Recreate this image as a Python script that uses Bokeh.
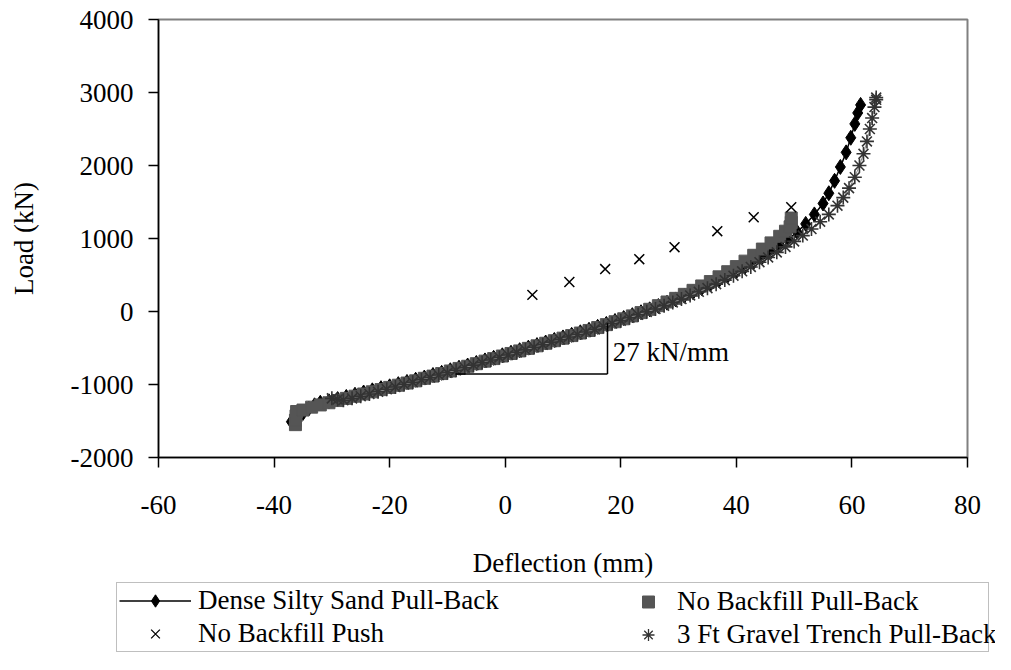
import numpy as np
from bokeh.plotting import figure
from bokeh.layouts import column
from bokeh.models import Range1d, SingleIntervalTicker, Legend, LegendItem, PrintfTickFormatter
from bokeh.core.properties import value
from bokeh.embed import file_html
from bokeh.resources import INLINE

# ---------------- data ----------------
dense_x = [-37, -36, -35, -34, -33, -32, -30.5, -29, -27.5, -26, -24.5, -23, -21.5, -20, -18.5, -17,
           -15.5, -14, -12.5, -11, -9.5, -8, -6.5, -5, -3.5, -2, -0.5, 1, 2.5, 4, 5.5, 7, 8.5, 10,
           11.5, 13, 14.5, 16, 17.5, 19, 20.5, 22, 23.5, 25, 26.5, 28, 29.5, 31, 32.5, 34, 35.5, 37,
           38.5, 40, 41.5, 43, 44.5, 46, 47.5, 49, 50.5, 52, 53.5, 55, 56, 57, 58, 59, 59.8, 60.5, 61, 61.5]
dense_y = [-1510, -1450, -1390, -1330, -1285, -1250, -1230, -1200, -1170, -1140, -1110, -1080, -1050,
           -1025, -995, -965, -935, -905, -870, -840, -805, -770, -740, -705, -670, -635, -600, -565,
           -530, -495, -460, -425, -390, -355, -320, -285, -250, -210, -170, -130, -90, -50, -10, 30,
           75, 120, 165, 215, 265, 320, 375, 430, 490, 550, 615, 680, 750, 825, 905, 990, 1090, 1200,
           1330, 1480, 1620, 1790, 1980, 2180, 2380, 2570, 2720, 2830]

nb_pull_x = [-36.3, -36.3, -36.2, -36.1, -35, -33.5, -32, -30.5, -29, -27.5, -26, -24.5, -23, -21.5,
             -20, -18.5, -17, -15.5, -14, -12.5, -11, -9.5, -8, -6.5, -5, -3.5, -2, -0.5, 1, 2.5, 4,
             5.5, 7, 8.5, 10, 11.5, 13, 14.5, 16, 17.5, 19, 20.5, 22, 23.5, 25, 26.5, 28, 29.5, 31,
             32.5, 34, 35.5, 37, 38.5, 40, 41.5, 43, 44.5, 46, 47.5, 48.5, 49.3, 49.5, 49.5]
nb_pull_y = [-1550, -1490, -1430, -1370, -1350, -1310, -1280, -1250, -1220, -1190, -1160, -1130, -1100,
             -1070, -1040, -1010, -980, -950, -915, -885, -850, -815, -780, -750, -715, -680, -645,
             -610, -575, -540, -505, -470, -435, -400, -365, -330, -295, -260, -220, -180, -140, -100,
             -60, -15, 30, 80, 130, 180, 235, 290, 350, 410, 475, 545, 615, 690, 770, 855, 940, 1030,
             1100, 1160, 1220, 1280]

nb_push_x = [4.7, 11.1, 17.3, 23.2, 29.3, 36.7, 43.0, 49.5]
nb_push_y = [228, 404, 581, 717, 881, 1100, 1291, 1428]

gravel_x = [-30, -29, -28, -26.5, -25, -23.5, -22, -20.5, -19, -17.5, -16, -14.5, -13, -11.5, -10, -8.5,
            -7, -5.5, -4, -2.5, -1, 0.5, 2, 3.5, 5, 6.5, 8, 9.5, 11, 12.5, 14, 15.5, 17, 18.5, 20, 21.5,
            23, 24.5, 26, 27.5, 29, 30.5, 32, 33.5, 35, 36.5, 38, 39.5, 41, 42.5, 44, 45.5, 47, 48.5, 50,
            51.5, 53, 54.5, 56, 57.5, 58.5, 59.5, 60.5, 61.3, 62, 62.6, 63.1, 63.5, 63.9, 64.2, 64.2]
gravel_y = [-1190, -1205, -1215, -1190, -1160, -1130, -1100, -1065, -1035, -1000, -970, -935, -905, -870,
            -840, -805, -770, -735, -700, -665, -630, -595, -560, -525, -490, -455, -420, -385, -350,
            -315, -280, -245, -205, -165, -125, -85, -45, -5, 35, 80, 125, 170, 220, 270, 320, 375, 430,
            490, 550, 610, 675, 740, 810, 885, 960, 1040, 1130, 1230, 1330, 1450, 1560, 1690, 1840, 2000,
            2160, 2330, 2500, 2650, 2800, 2900, 2930]

# stiffness triangle annotation
slope_h_x = [-8.6, 17.7]
slope_h_y = [-855, -855]
slope_v_x = [17.7, 17.7]
slope_v_y = [-855, -160]
slope_label = "27 kN/mm"
slope_label_x = [18.6]
slope_label_y = [-551]

series_labels = ["Dense Silty Sand Pull-Back", "No Backfill Pull-Back",
                 "No Backfill Push", "3 Ft Gravel Trench Pull-Back"]

x_ticks_interval = 20
y_ticks_interval = 1000

SERIF = "Liberation Serif"
FS = "27px"

# ---------------- main chart ----------------
p = figure(width=995, height=580, output_backend="svg", toolbar_location=None,
           x_range=Range1d(-60, 80), y_range=Range1d(-2000, 4000),
           min_border_left=158, min_border_right=28, min_border_top=19, min_border_bottom=122)
p.frame_align = False
p.background_fill_color = "white"
p.border_fill_color = "white"
p.outline_line_color = "#808080"
p.outline_line_width = 2
p.xgrid.visible = False
p.ygrid.visible = False

p.xaxis.ticker = SingleIntervalTicker(interval=x_ticks_interval, num_minor_ticks=0)
p.yaxis.ticker = SingleIntervalTicker(interval=y_ticks_interval, num_minor_ticks=0)
for ax in (p.xaxis[0], p.yaxis[0]):
    ax.formatter = PrintfTickFormatter(format="%d")
    ax.axis_line_color = "black"
    ax.axis_line_width = 1.5
    ax.major_tick_line_color = "black"
    ax.major_tick_line_width = 1.5
    ax.major_tick_in = 0
    ax.major_tick_out = 10
    ax.minor_tick_line_color = None
    ax.major_label_text_font = SERIF
    ax.major_label_text_font_size = FS
    ax.major_label_text_color = "black"
    ax.axis_label_text_font = SERIF
    ax.axis_label_text_font_size = FS
    ax.axis_label_text_font_style = "normal"
    ax.axis_label_text_color = "black"
p.xaxis.axis_label = "Deflection (mm)"
p.yaxis.axis_label = "Load (kN)"
p.xaxis.major_label_standoff = 28
p.xaxis.axis_label_standoff = 31
p.yaxis.major_label_standoff = 15
p.yaxis.axis_label_standoff = 29

# series
p.line(dense_x, dense_y, line_color="black", line_width=1.5)
p.scatter(dense_x, dense_y, marker="diamond", size=15, fill_color="black", line_color="black")
p.scatter(nb_pull_x, nb_pull_y, marker="square", size=12, fill_color="#555555", line_color="#555555")
p.scatter(nb_push_x, nb_push_y, marker="x", size=14, line_color="black", line_width=1.5)
p.line(gravel_x, gravel_y, line_color="#8a8a8a", line_width=1)
p.scatter(gravel_x, gravel_y, marker="asterisk", size=14, line_color="#333333", line_width=1.6)

# annotation triangle
p.line(slope_h_x, slope_h_y, line_color="black", line_width=1.5)
p.line(slope_v_x, slope_v_y, line_color="black", line_width=1.5)
p.text(x=slope_label_x, y=slope_label_y, text=[slope_label], text_font=value(SERIF), text_font_size=FS,
       text_baseline="middle", text_align="left", text_color="black")

# ---------------- legend strip ----------------
lg = figure(width=995, height=74, output_backend="svg", toolbar_location=None,
            x_range=Range1d(0, 1), y_range=Range1d(0, 1),
            min_border_left=0, min_border_right=0, min_border_top=0, min_border_bottom=0)
lg.frame_align = False
lg.axis.visible = False
lg.xgrid.visible = False
lg.ygrid.visible = False
lg.outline_line_color = None
lg.background_fill_color = "white"
lg.border_fill_color = "white"

no_pt = np.array([np.nan])
k1l = lg.line(x=no_pt, y=no_pt, line_color="black", line_width=1.5)
k1m = lg.scatter(x=no_pt, y=no_pt, marker="diamond", size=12, fill_color="black", line_color="black")
k2 = lg.scatter(x=no_pt, y=no_pt, marker="square", size=10, fill_color="#555555", line_color="#555555")
k3 = lg.scatter(x=no_pt, y=no_pt, marker="x", size=10, line_color="black", line_width=1.3)
k4 = lg.scatter(x=no_pt, y=no_pt, marker="asterisk", size=10, line_color="#333333", line_width=1.3)

common = dict(orientation="vertical", glyph_height=31, label_height=31,
              padding=2, spacing=2, margin=0,
              label_text_font=SERIF, label_text_font_size=FS, label_text_color="black",
              border_line_width=1.5)
legA = Legend(items=[LegendItem(label=series_labels[0], renderers=[k1l, k1m]),
                     LegendItem(label=series_labels[2], renderers=[k3])],
              location=(116, 2), glyph_width=72, label_width=788, label_standoff=7,
              border_line_color="#808080",
              background_fill_color="white", background_fill_alpha=1.0, **common)
legB = Legend(items=[LegendItem(label=series_labels[1], renderers=[k2]),
                     LegendItem(label=series_labels[3], renderers=[k4])],
              location=(631, 2), glyph_width=30, label_standoff=14,
              border_line_color="white", border_line_alpha=0.0,
              background_fill_alpha=0.0, **common)
lg.add_layout(legA, "center")
lg.add_layout(legB, "center")

layout = column(p, lg, spacing=0)
open("out.html", "w").write(file_html(layout, INLINE))
